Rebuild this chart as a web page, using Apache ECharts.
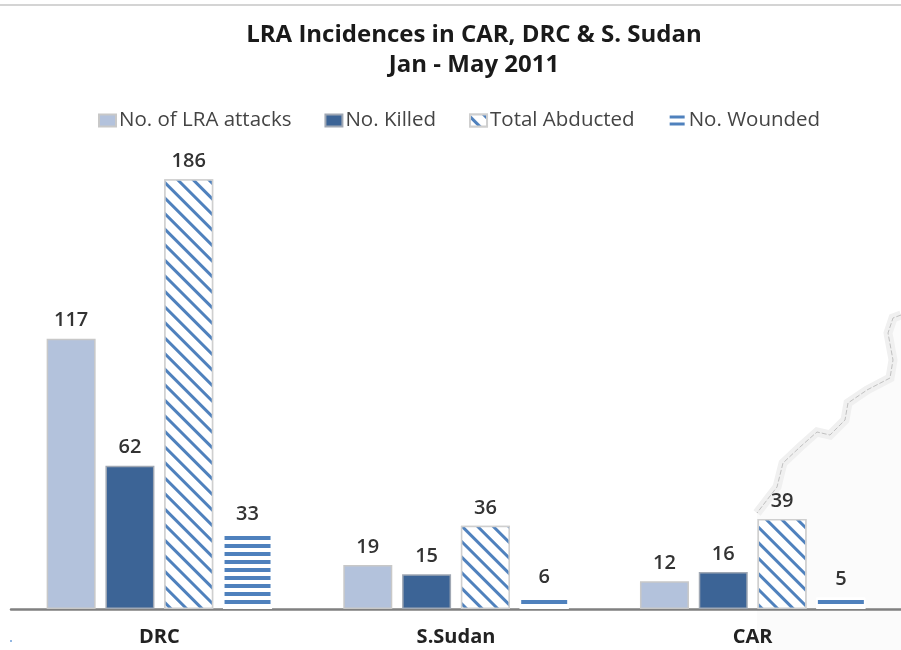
<!DOCTYPE html>
<html><head><meta charset="utf-8">
<style>html,body{margin:0;padding:0;background:#fff}#c{width:901px;height:650px;filter:blur(0.7px)}</style>
<script src="https://cdn.jsdelivr.net/npm/echarts@6/dist/echarts.min.js"></script>
</head><body><div id="c"></div>
<script>
const categories = ['DRC', 'S.Sudan', 'CAR'];
const attacks = [117, 19, 12];
const killed = [62, 15, 16];
const abducted = [186, 36, 39];
const wounded = [33, 6, 5];
const titleLines = 'LRA Incidences in CAR, DRC & S. Sudan\nJan - May 2011';
const border = [[901,315],[893,318],[888,333],[893,360],[890,378],[867,390],[848,403],[845,420],[830,435],[817,432],[800,447],[783,463],[777,487],[757,513]];

const font = '"Open Sans", Lato, sans-serif';
const stripe = '#4f81bd';
const label = {show: true, position: 'top', distance: 8, color: '#333', fontFamily: font, fontWeight: 600, fontSize: 20};
function bar(name, data, color, edge, decal) {
  return {type: 'bar', name, data, barWidth: 49, barGap: '20%', label,
    itemStyle: {color, borderColor: edge, borderWidth: 1.5, decal}};
}
const diag = {symbol: 'rect', symbolSize: 1, color: stripe, backgroundColor: '#fff', dashArrayX: [1, 0], dashArrayY: [3, 8], rotation: Math.PI / 4};
const horiz = {symbol: 'rect', symbolSize: 1, color: stripe, backgroundColor: '#fff', dashArrayX: [1, 0], dashArrayY: [4, 4], rotation: 0};

const chart = echarts.init(document.getElementById('c'), null, {renderer: 'canvas'});
chart.setOption({
  animation: false,
  backgroundColor: '#fff',
  title: {text: titleLines, left: 469, top: 15, textAlign: 'center',
    textStyle: {fontFamily: font, fontWeight: 700, fontSize: 24, lineHeight: 30, color: '#1a1a1a'}},
  legend: {top: 105, left: 93, itemWidth: 17, itemHeight: 12, itemGap: 33, icon: 'rect',
    textStyle: {fontFamily: font, fontSize: 20.5, color: '#444', padding: [0, 0, 0, -2]},
    data: ['No. of LRA attacks', 'No. Killed', 'Total Abducted', 'No. Wounded']},
  grid: {left: 11, right: 0, top: 147, bottom: 41, containLabel: false},
  xAxis: {type: 'category', data: categories,
    axisLine: {lineStyle: {color: '#808080', width: 2.5}}, axisTick: {show: false},
    axisLabel: {margin: 18, color: '#222', fontFamily: font, fontWeight: 700, fontSize: 20}},
  yAxis: {type: 'value', min: 0, max: 200, show: false, splitLine: {show: false}},
  series: [
    bar('No. of LRA attacks', attacks, '#b3c2dc', '#c8c8c8'),
    bar('No. Killed', killed, '#3c6496', '#a0a8b4'),
    bar('Total Abducted', abducted, '#fff', '#cfcfcf', diag),
    bar('No. Wounded', wounded, '#fff', '#fff', horiz)
  ],
  graphic: [
    {type: 'rect', silent: true, z: -3, shape: {x: 0, y: 4, width: 901, height: 2}, style: {fill: '#d4d4d4'}},
    {type: 'polygon', silent: true, z: -3, shape: {points: border.concat([[757,650],[901,650]])}, style: {fill: '#fbfbfb'}},
    {type: 'polyline', silent: true, z: -2, shape: {points: border}, style: {stroke: '#f0f0f0', lineWidth: 9, fill: null}},
    {type: 'polyline', silent: true, z: -1, shape: {points: border}, style: {stroke: '#c0c0c0', lineWidth: 1, lineDash: [5, 2], fill: null}},
    {type: 'circle', silent: true, shape: {cx: 11, cy: 641, r: 1}, style: {fill: '#6f9fd8'}}
  ]
});
</script></body></html>
